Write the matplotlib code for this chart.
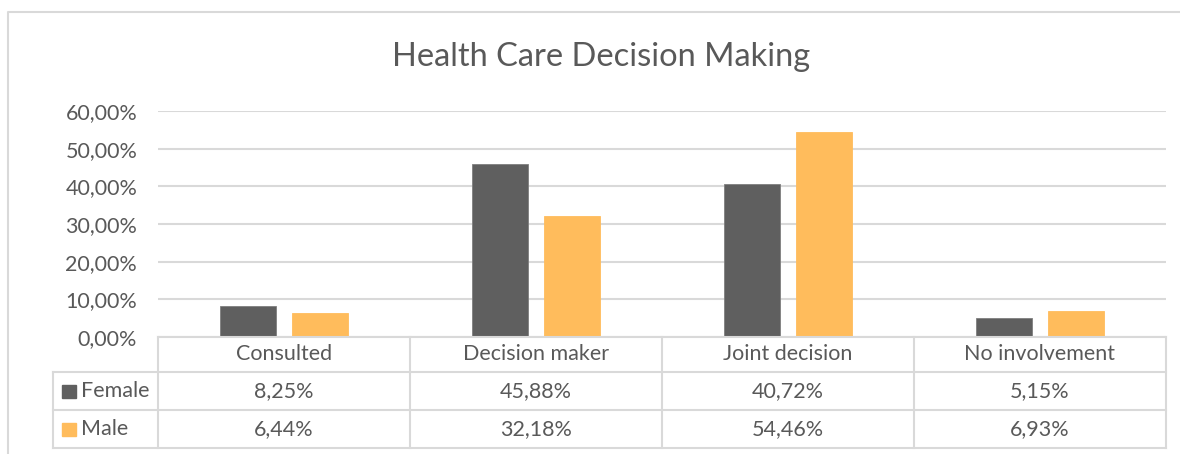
import matplotlib
matplotlib.use('Agg')
import matplotlib.pyplot as plt
from matplotlib.patches import Rectangle

plt.rcParams['font.family'] = ['Lato', 'DejaVu Sans']

categories = ['Consulted', 'Decision maker', 'Joint decision', 'No involvement']
series_names = ['Female', 'Male']
female = [0.0825, 0.4588, 0.4072, 0.0515]
male = [0.0644, 0.3218, 0.5446, 0.0693]
y_ticks = [0.0, 0.1, 0.2, 0.3, 0.4, 0.5, 0.6]
title = 'Health Care Decision Making'

colors = ['#5f5f5f', '#ffbc5c']
text_col = '#595959'
line_col = '#d9d9d9'
fs = 15.5

W, H = 1180, 454
fig = plt.figure(figsize=(W / 100, H / 100), dpi=100)

# pixel geometry of the plot area
x0, x1 = 158, 1166
y_top, y_zero = 111, 337
ax = fig.add_axes([x0 / W, (H - y_zero) / H, (x1 - x0) / W, (y_zero - y_top) / H])

def pct(v):
    return f'{v * 100:.2f}%'.replace('.', ',')

xs = range(len(categories))
off, bw = 0.143, 0.222
for vals, sign, c in [(female, -1, colors[0]), (male, 1, colors[1])]:
    ax.bar([x + sign * off for x in xs], vals, width=bw, color=c,
           edgecolor='#7f7f7f' if c == colors[0] else c, linewidth=0.6, zorder=3)

ax.set_xlim(-0.5, len(categories) - 0.5)
ax.set_ylim(0, 0.6)
ax.set_yticks(y_ticks)
ax.set_yticklabels([pct(v) for v in y_ticks], fontsize=fs, color=text_col)
ax.tick_params(axis='y', length=0, pad=15)
ax.set_xticks([])
ax.grid(axis='y', color=line_col, linewidth=1.5, zorder=0)
for s in ax.spines.values():
    s.set_visible(False)

# overlay in pixel coords for frame, title and data table
ov = fig.add_axes([0, 0, 1, 1], zorder=-1)
ov.set_xlim(0, W)
ov.set_ylim(H, 0)
ov.axis('off')
ov.plot([8, 8, W], [H, 12, 12], color=line_col, linewidth=1.5)
ov.text(601, 57, title, ha='center', va='center', fontsize=23.5, color=text_col)

col_edges = [x0 + i * (x1 - x0) / len(categories) for i in range(len(categories) + 1)]
row_y = [337, 372, 410, 448]
tbl = fig.add_axes([0, 0, 1, 1], zorder=5)
tbl.set_xlim(0, W)
tbl.set_ylim(H, 0)
tbl.axis('off')
tbl.plot([x0, x1], [row_y[0], row_y[0]], color=line_col, linewidth=1.5)
for y in row_y[1:]:
    tbl.plot([53, x1], [y, y], color=line_col, linewidth=1.5)
for xe in col_edges:
    tbl.plot([xe, xe], [row_y[0], row_y[-1]], color=line_col, linewidth=1.5)
tbl.plot([53, 53], [row_y[1], row_y[-1]], color=line_col, linewidth=1.5)

for i, cat in enumerate(categories):
    cx = (col_edges[i] + col_edges[i + 1]) / 2
    tbl.text(cx, (row_y[0] + row_y[1]) / 2, cat, ha='center', va='center',
             fontsize=fs, color=text_col)
    for r, vals in enumerate([female, male]):
        tbl.text(cx, (row_y[r + 1] + row_y[r + 2]) / 2, pct(vals[i]), ha='center',
                 va='center', fontsize=fs, color=text_col)

for r, name in enumerate(series_names):
    cy = (row_y[r + 1] + row_y[r + 2]) / 2
    tbl.add_patch(Rectangle((62, cy - 6), 14, 13, color=colors[r]))
    tbl.text(81, cy, name, ha='left', va='center', fontsize=fs, color=text_col)

fig.savefig('out.png', dpi=100)
